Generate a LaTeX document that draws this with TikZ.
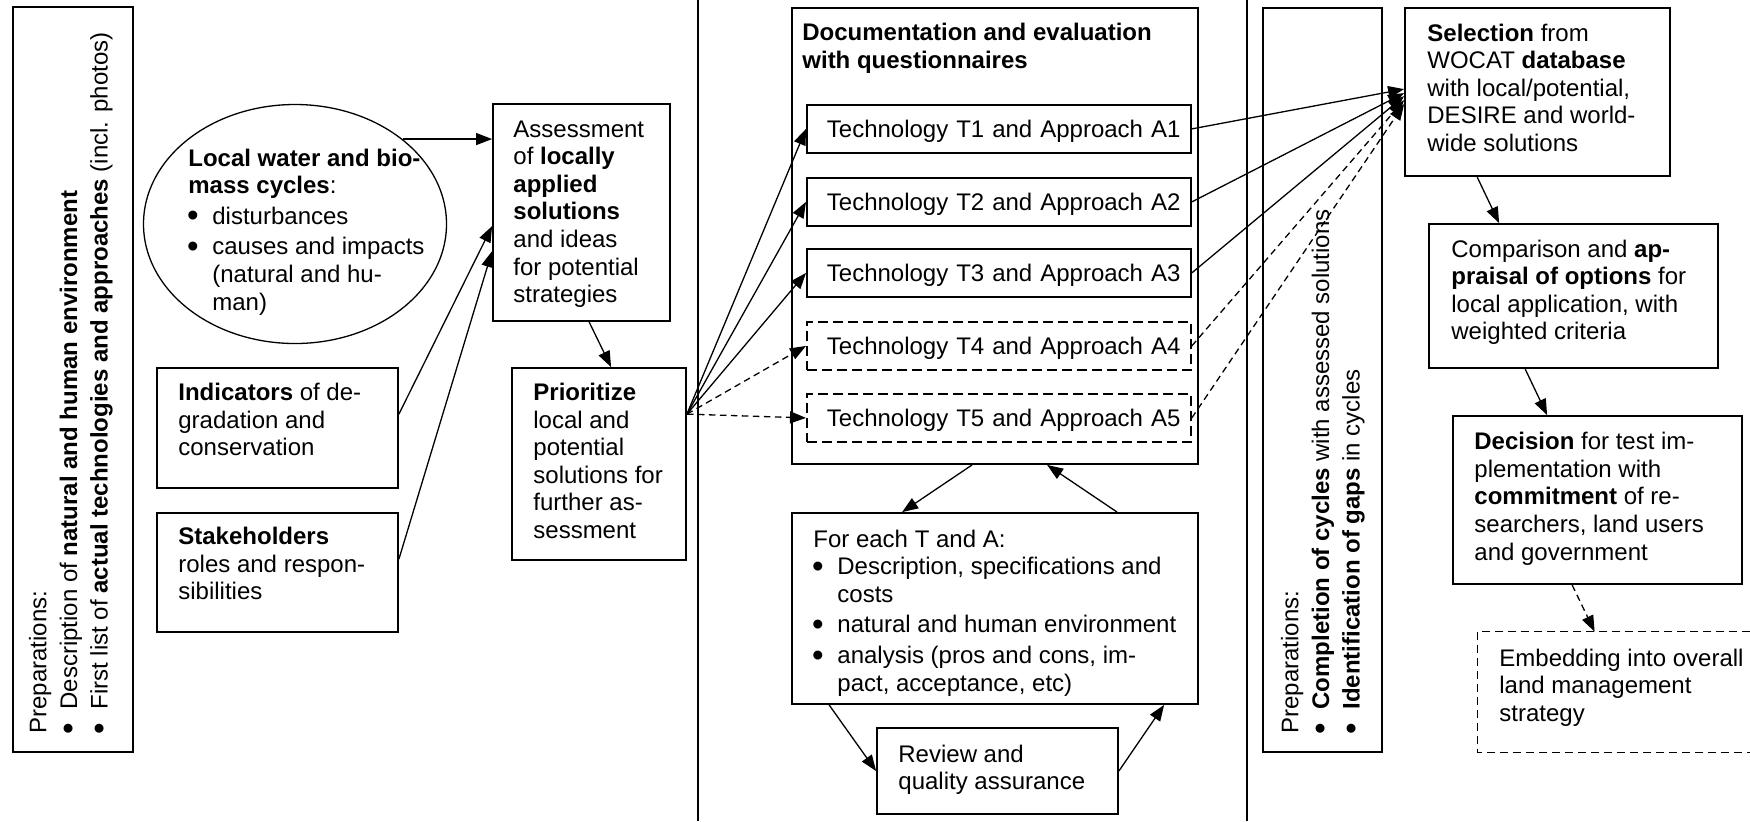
\documentclass[tikz,border=0pt]{standalone}
\usepackage{fontspec}
\setmainfont{Liberation Sans}
\usetikzlibrary{arrows.meta,shapes.geometric,fit,calc}
\newcommand\myfont{\fontsize{12pt}{13.8pt}\selectfont}
\newcommand\bul{\makebox[12pt][l]{\hspace{-0.6pt}\raisebox{-1.3pt}{\fontsize{16.5pt}{16pt}\selectfont\textbullet}}}
\newcommand\ind{\hspace*{12pt}}
\begin{document}
\begin{tikzpicture}[x=0.5pt,y=-0.5pt,
  box/.style={draw, line width=0.9pt, inner sep=0pt},
  txt/.style={anchor=north west, inner sep=0pt, align=left, font=\myfont},
  rtxt/.style={txt, rotate=90},
  tbox/.style={draw, line width=0.9pt, anchor=north west, minimum width=192pt, minimum height=24pt,
    inner xsep=5pt, inner ysep=0pt, text width=182pt, align=left, font=\myfont,
    text height=9.7pt, text depth=1pt},
  tboxd/.style={tbox, dash pattern=on 5pt off 2.5pt},
  arr/.style={-{Triangle[length=8pt,width=6pt]}, line width=0.65pt},
  darr/.style={arr, dash pattern=on 3.3pt off 2.2pt},
  sepline/.style={line width=0.8pt},
  dashbox/.style={line width=0.8pt, dash pattern=on 4pt off 2.5pt}
]
\useasboundingbox (0,0) rectangle (1750,821);

% separators
\coordinate (s1t) at (698,0); \coordinate (s1b) at (698,821);
\coordinate (s2t) at (1247,0); \coordinate (s2b) at (1247,821);
\draw[sepline] (s1t) -- (s1b);
\draw[sepline] (s2t) -- (s2b);

% left preparations box
\node[box, fit={(13,7) (133,752)}] (lprep) {};
\node[rtxt] (lpreptxt) at (26.7,734) {\strut Preparations:\\[1.5pt]
  \bul Description of \textbf{natural and human environment}\\[1.5pt]
  \bul First list of \textbf{actual technologies and approaches} (incl. photos)};

% ellipse
\node[draw, ellipse, line width=0.65pt, minimum width=151.5pt, minimum height=119.5pt, inner sep=0pt] (cyc) at (295,224) {};
\node[txt] (cyctxt) at (188,146.4) {\strut\textbf{Local water and bio-}\\
  \textbf{mass cycles}:\\[1.5pt]
  \bul disturbances\\[1.5pt]
  \bul causes and impacts\\
  \ind(natural and hu-\\
  \ind man)};

% indicators
\node[box, fit={(157,368) (398,488)}] (indic) {};
\node[txt] (indictxt) at (178,380.7) {\strut\textbf{Indicators} of de-\\ gradation and\\ conservation};

% stakeholders
\node[box, fit={(157,513) (398,632)}] (stake) {};
\node[txt] (staketxt) at (178,524.7) {\strut\textbf{Stakeholders}\\ roles and respon-\\ sibilities};

% assessment
\node[box, fit={(493,104) (670,321)}] (assess) {};
\node[txt] (assesstxt) at (513,117.4) {\strut Assessment\\ of \textbf{locally}\\ \textbf{applied}\\ \textbf{solutions}\\ and ideas\\ for potential\\ strategies};

% prioritize
\node[box, fit={(512,368) (686,560)}] (prior) {};
\node[txt] (priortxt) at (533,380.7) {\strut\textbf{Prioritize}\\ local and\\ potential\\ solutions for\\ further as-\\ sessment};

% documentation
\node[box, fit={(792,8) (1198,464)}] (doc) {};
\node[txt] (doctxt) at (802,20.7) {\strut\textbf{Documentation and evaluation}\\ \textbf{with questionnaires}};
\node[tbox] (t1) at (806,104) {\hspace*{5pt}Technology T1 and Approach A1};
\node[tbox] (t2) at (806,177) {\hspace*{5pt}Technology T2 and Approach A2};
\node[tbox] (t3) at (806,248) {\hspace*{5pt}Technology T3 and Approach A3};
\node[tboxd] (t4) at (806,321) {\hspace*{5pt}Technology T4 and Approach A4};
\node[tboxd] (t5) at (806,393) {\hspace*{5pt}Technology T5 and Approach A5};

% for each
\node[box, fit={(792,513) (1198,704)}] (fe) {};
\node[txt] (fetxt) at (813,527.4) {\strut For each T and A:\\
  \bul Description, specifications and\\
  \ind costs\\[1.5pt]
  \bul natural and human environment\\[1.5pt]
  \bul analysis (pros and cons, im-\\
  \ind pact, acceptance, etc)};

% review
\node[box, fit={(877,728) (1118,814)}] (rev) {};
\node[txt] (revtxt) at (898,742.4) {\strut Review and\\ quality assurance};

% right preparations box
\node[box, fit={(1263,8) (1382,752)}] (rprep) {};
\node[rtxt] (rpreptxt) at (1278.7,734) {\strut Preparations:\\[1.5pt]
  \bul\textbf{Completion of cycles} with assessed solutions\\[1.5pt]
  \bul\textbf{Identification of gaps} in cycles};

% selection
\node[box, fit={(1405,8) (1670,176)}] (sel) {};
\node[txt] (seltxt) at (1427,21.4) {\strut\textbf{Selection} from\\ WOCAT \textbf{database}\\ with local/potential,\\ DESIRE and world-\\ wide solutions};

% comparison
\node[box, fit={(1429,224) (1718,368)}] (comp) {};
\node[txt] (comptxt) at (1451,237.4) {\strut Comparison and \textbf{ap-}\\ \textbf{praisal of options} for\\ local application, with\\ weighted criteria};

% decision
\node[box, fit={(1453,416) (1742,584)}] (dec) {};
\node[txt] (dectxt) at (1474,430) {\strut\textbf{Decision} for test im-\\ plementation with\\ \textbf{commitment} of re-\\ searchers, land users\\ and government};

% embedding
\node[inner sep=0pt, fit={(1478,632) (1750,752)}] (emb) {};
\draw[dashbox] (emb.north east) -- (emb.north west) -- (emb.south west) -- (emb.south east);
\node[txt] (embtxt) at (1499,646.4) {\strut Embedding into overall\\ land management\\ strategy};

% arrows
\draw[arr] (cyc.north east) -- (cyc.north east -| assess.west);
\draw[arr] ($(indic.north east)+(0,47)$) -- ($(assess.north west)+(0,123)$);
\draw[arr] ($(stake.north east)+(0,47)$) -- ($(assess.north west)+(0,148)$);
\draw[arr] ($(assess.south west)+(97,0)$) -- ($(prior.north west)+(100,0)$);

\coordinate (fan) at ($(prior.north east)+(0,47)$);
\draw[arr] (fan) -- (t1.west);
\draw[arr] (fan) -- (t2.west);
\draw[arr] (fan) -- (t3.west);
\draw[darr] (fan) -- (t4.west);
\draw[darr] (fan) -- (t5.west);

\draw[arr] (t1.east) -- ($(sel.north west)+(0,82)$);
\draw[arr] (t2.east) -- ($(sel.north west)+(0,86)$);
\draw[arr] (t3.east) -- ($(sel.north west)+(0,89)$);
\draw[darr] (t4.east) -- ($(sel.north west)+(0,93)$);
\draw[darr] (t5.east) -- ($(sel.north west)+(0,97)$);

\draw[arr] ($(doc.south west)+(181,0)$) -- ($(fe.north west)+(111,0)$);
\draw[arr] ($(fe.north west)+(326,0)$) -- ($(doc.south west)+(256,0)$);
\draw[arr] ($(fe.south west)+(38,0)$) -- (rev.west);
\draw[arr] (rev.east) -- ($(fe.south west)+(373,0)$);

\draw[arr] ($(sel.south west)+(73,0)$) -- ($(comp.north west)+(71,0)$);
\draw[arr] ($(comp.south west)+(97,0)$) -- ($(dec.north west)+(95,0)$);
\draw[darr] ($(dec.south west)+(120,0)$) -- ($(emb.north west)+(117,0)$);
\end{tikzpicture}
\end{document}
